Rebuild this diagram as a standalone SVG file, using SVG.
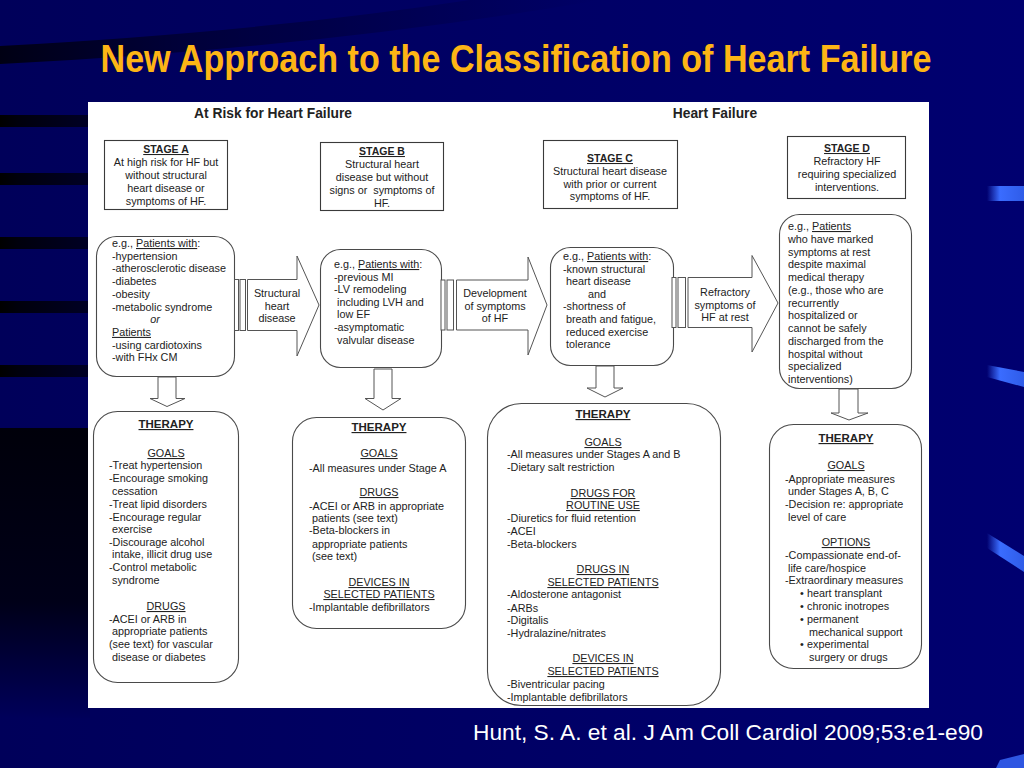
<svg xmlns="http://www.w3.org/2000/svg" width="1024" height="768" viewBox="0 0 1024 768">
<defs>
<linearGradient id="bg" x1="0" y1="0" x2="1" y2="0">
<stop offset="0" stop-color="#00005a"/>
<stop offset="1" stop-color="#000070"/>
</linearGradient>
<linearGradient id="stripe" x1="0" y1="0" x2="1" y2="0">
<stop offset="0" stop-color="#000000"/>
<stop offset="0.2" stop-color="#00000c"/>
<stop offset="1" stop-color="#000025"/>
</linearGradient>
<linearGradient id="lowleft" x1="0" y1="0" x2="0" y2="1">
<stop offset="0" stop-color="#00000a"/>
<stop offset="0.6" stop-color="#000018"/>
<stop offset="1" stop-color="#00005a"/>
</linearGradient>
<linearGradient id="arc" x1="0" y1="0" x2="1" y2="0">
<stop offset="0" stop-color="#000010" stop-opacity="0.95"/>
<stop offset="0.3" stop-color="#000020" stop-opacity="0.6"/>
<stop offset="1" stop-color="#000030" stop-opacity="0"/>
</linearGradient>
<linearGradient id="blue" x1="0" y1="0" x2="1" y2="0">
<stop offset="0" stop-color="#3a6cff" stop-opacity="0"/>
<stop offset="0.35" stop-color="#3a6cff"/>
<stop offset="1" stop-color="#2f5ce8"/>
</linearGradient>
<style>
.t{font-family:"Liberation Sans",Arial,sans-serif;font-size:10.8px;fill:#222}
.c{text-anchor:middle}
.b{font-weight:bold}
.u{text-decoration:underline}
.sh{font-family:"Liberation Sans",Arial,sans-serif;font-size:10.5px;font-weight:bold;fill:#222;text-anchor:middle;text-decoration:underline}
.th{font-family:"Liberation Sans",Arial,sans-serif;font-size:11.5px;font-weight:bold;fill:#222;text-anchor:middle;text-decoration:underline}
.box{fill:#fff;stroke:#3a3a3a;stroke-width:1.1}
.rbox{fill:#fff;stroke:#4a4a4a;stroke-width:1.1}
.arr{fill:#fff;stroke:#555;stroke-width:1}
</style>
</defs>

<!-- background -->
<rect x="0" y="0" width="1024" height="768" fill="url(#bg)"/>
<path d="M0,46 Q260,32 470,0 L600,0 Q320,48 0,64 Z" fill="url(#arc)"/>
<rect x="0" y="115" width="90" height="12" fill="url(#stripe)"/>
<rect x="0" y="173" width="90" height="12" fill="url(#stripe)"/>
<rect x="0" y="237" width="90" height="12" fill="url(#stripe)"/>
<rect x="0" y="301" width="90" height="12" fill="url(#stripe)"/>
<rect x="0" y="365" width="90" height="12" fill="url(#stripe)"/>
<rect x="0" y="428" width="90" height="290" fill="url(#lowleft)"/>
<polygon points="987,186 1024,186 1024,201 987,201" fill="url(#blue)"/>
<polygon points="987,365 1024,372 1024,387 987,377" fill="url(#blue)"/>
<polygon points="987,533 1024,556 1024,572 987,548" fill="url(#blue)"/>
<polygon points="1000,760 1024,754 1024,768 996,768" fill="#3a6cff" opacity="0.8"/>

<!-- title -->
<text x="516" y="72" font-family="Liberation Sans,Arial,sans-serif" font-size="38" font-weight="bold" fill="#fdb515" text-anchor="middle" textLength="831" lengthAdjust="spacingAndGlyphs">New Approach to the Classification of Heart Failure</text>

<!-- panel -->
<rect x="88" y="102" width="841" height="606" fill="#ffffff"/>
<text x="273" y="118" font-family="Liberation Sans,Arial,sans-serif" font-size="13.8" font-weight="bold" fill="#222" text-anchor="middle">At Risk for Heart Failure</text>
<text x="715" y="118" font-family="Liberation Sans,Arial,sans-serif" font-size="13.8" font-weight="bold" fill="#222" text-anchor="middle">Heart Failure</text>

<!-- stage boxes -->
<g id="stageA">
<rect class="box" x="104.5" y="140.5" width="123" height="69"/>
<text class="sh" x="166" y="153">STAGE A</text>
<text class="t c" x="166" y="166">At high risk for HF but</text>
<text class="t c" x="166" y="179">without structural</text>
<text class="t c" x="166" y="192">heart disease or</text>
<text class="t c" x="166" y="205">symptoms of HF.</text>
</g>
<g id="stageB">
<rect class="box" x="320.5" y="142.5" width="123" height="68"/>
<text class="sh" x="382" y="155">STAGE B</text>
<text class="t c" x="382" y="168">Structural heart</text>
<text class="t c" x="382" y="181">disease but without</text>
<text class="t c" x="382" y="194" xml:space="preserve">signs or  symptoms of</text>
<text class="t c" x="382" y="207">HF.</text>
</g>
<g id="stageC">
<rect class="box" x="543.5" y="140.5" width="134" height="68"/>
<text class="sh" x="610" y="162">STAGE C</text>
<text class="t c" x="610" y="175">Structural heart disease</text>
<text class="t c" x="610" y="188">with prior or current</text>
<text class="t c" x="610" y="200">symptoms of HF.</text>
</g>
<g id="stageD">
<rect class="box" x="787.5" y="136.5" width="118" height="62"/>
<text class="sh" x="847" y="152">STAGE D</text>
<text class="t c" x="847" y="165">Refractory HF</text>
<text class="t c" x="847" y="178">requiring specialized</text>
<text class="t c" x="847" y="191">interventions.</text>
</g>

<!-- patient boxes -->
<g id="patientsA">
<rect class="rbox" x="96.5" y="236.5" width="138" height="140" rx="20"/>
<text class="t" x="112" y="247">e.g., <tspan class="u">Patients with</tspan>:</text>
<text class="t" x="112" y="259.7">-hypertension</text>
<text class="t" x="112" y="272.4">-atherosclerotic disease</text>
<text class="t" x="112" y="285.1">-diabetes</text>
<text class="t" x="112" y="297.8">-obesity</text>
<text class="t" x="112" y="310.5">-metabolic syndrome</text>
<text class="t c" x="155" y="323.2" font-style="italic">or</text>
<text class="t u" x="112" y="335.9">Patients</text>
<text class="t" x="112" y="348.6">-using cardiotoxins</text>
<text class="t" x="112" y="361.3">-with FHx CM</text>
</g>
<g id="patientsB">
<rect class="rbox" x="320.5" y="249.5" width="121" height="118" rx="20"/>
<text class="t" x="334" y="268">e.g., <tspan class="u">Patients with</tspan>:</text>
<text class="t" x="334" y="280.6">-previous MI</text>
<text class="t" x="334" y="293.2">-LV remodeling</text>
<text class="t" x="337" y="305.8">including LVH and</text>
<text class="t" x="337" y="318.4">low EF</text>
<text class="t" x="334" y="331">-asymptomatic</text>
<text class="t" x="337" y="343.6">valvular disease</text>
</g>
<g id="patientsC">
<rect class="rbox" x="550.5" y="247.5" width="123" height="118" rx="20"/>
<text class="t" x="563" y="260">e.g., <tspan class="u">Patients with</tspan>:</text>
<text class="t" x="563" y="272.6">-known structural</text>
<text class="t" x="566" y="285.2">heart disease</text>
<text class="t" x="588" y="297.8">and</text>
<text class="t" x="563" y="310.4">-shortness of</text>
<text class="t" x="566" y="323">breath and fatigue,</text>
<text class="t" x="566" y="335.6">reduced exercise</text>
<text class="t" x="566" y="348.2">tolerance</text>
</g>
<g id="patientsD">
<rect class="rbox" x="779.5" y="214.5" width="132" height="174" rx="20"/>
<text class="t" x="788" y="230">e.g., <tspan class="u">Patients</tspan></text>
<text class="t" x="788" y="242.75">who have marked</text>
<text class="t" x="788" y="255.5">symptoms at rest</text>
<text class="t" x="788" y="268.25">despite maximal</text>
<text class="t" x="788" y="281">medical therapy</text>
<text class="t" x="788" y="293.75">(e.g., those who are</text>
<text class="t" x="788" y="306.5">recurrently</text>
<text class="t" x="788" y="319.25">hospitalized or</text>
<text class="t" x="788" y="332">cannot be safely</text>
<text class="t" x="788" y="344.75">discharged from the</text>
<text class="t" x="788" y="357.5">hospital without</text>
<text class="t" x="788" y="370.25">specialized</text>
<text class="t" x="788" y="383">interventions)</text>
</g>

<!-- therapy boxes -->
<g id="therapyA">
<rect class="rbox" x="93.5" y="411.5" width="145" height="271" rx="24"/>
<text class="th" x="166" y="428">THERAPY</text>
<text class="t c u" x="166" y="457">GOALS</text>
<text class="t" x="109" y="469">-Treat hypertension</text>
<text class="t" x="109" y="482">-Encourage smoking</text>
<text class="t" x="112" y="495">cessation</text>
<text class="t" x="109" y="508">-Treat lipid disorders</text>
<text class="t" x="109" y="521">-Encourage regular</text>
<text class="t" x="112" y="533">exercise</text>
<text class="t" x="109" y="546">-Discourage alcohol</text>
<text class="t" x="112" y="558">intake, illicit drug use</text>
<text class="t" x="109" y="571">-Control metabolic</text>
<text class="t" x="112" y="584">syndrome</text>
<text class="t c u" x="166" y="610">DRUGS</text>
<text class="t" x="109" y="623">-ACEI or ARB in</text>
<text class="t" x="112" y="635">appropriate patients</text>
<text class="t" x="109" y="648">(see text) for vascular</text>
<text class="t" x="112" y="661">disease or diabetes</text>
</g>
<g id="therapyB">
<rect class="rbox" x="292.5" y="417.5" width="173" height="211" rx="24"/>
<text class="th" x="379" y="431">THERAPY</text>
<text class="t c u" x="379" y="457">GOALS</text>
<text class="t" x="309" y="472">-All measures under Stage A</text>
<text class="t c u" x="379" y="496">DRUGS</text>
<text class="t" x="309" y="510">-ACEI or ARB in appropriate</text>
<text class="t" x="312" y="522">patients (see text)</text>
<text class="t" x="309" y="534">-Beta-blockers in</text>
<text class="t" x="312" y="548">appropriate patients</text>
<text class="t" x="312" y="560">(see text)</text>
<text class="t c u" x="379" y="586">DEVICES IN</text>
<text class="t c u" x="379" y="598">SELECTED PATIENTS</text>
<text class="t" x="309" y="611">-Implantable defibrillators</text>
</g>
<g id="therapyC">
<rect class="rbox" x="487.5" y="403.5" width="233" height="302" rx="34"/>
<text class="th" x="603" y="418">THERAPY</text>
<text class="t c u" x="603" y="446">GOALS</text>
<text class="t" x="507" y="458">-All measures under Stages A and B</text>
<text class="t" x="507" y="471">-Dietary salt restriction</text>
<text class="t c u" x="603" y="497">DRUGS FOR</text>
<text class="t c u" x="603" y="509">ROUTINE USE</text>
<text class="t" x="507" y="522">-Diuretics for fluid retention</text>
<text class="t" x="507" y="535">-ACEI</text>
<text class="t" x="507" y="548">-Beta-blockers</text>
<text class="t c u" x="603" y="573">DRUGS IN</text>
<text class="t c u" x="603" y="586">SELECTED PATIENTS</text>
<text class="t" x="507" y="598">-Aldosterone antagonist</text>
<text class="t" x="507" y="612">-ARBs</text>
<text class="t" x="507" y="624">-Digitalis</text>
<text class="t" x="507" y="637">-Hydralazine/nitrates</text>
<text class="t c u" x="603" y="662">DEVICES IN</text>
<text class="t c u" x="603" y="675">SELECTED PATIENTS</text>
<text class="t" x="507" y="688">-Biventricular pacing</text>
<text class="t" x="507" y="701">-Implantable defibrillators</text>
</g>
<g id="therapyD">
<rect class="rbox" x="769.5" y="424.5" width="152" height="244" rx="24"/>
<text class="th" x="846" y="442">THERAPY</text>
<text class="t c u" x="846" y="469">GOALS</text>
<text class="t" x="785" y="483">-Appropriate measures</text>
<text class="t" x="788" y="495">under Stages A, B, C</text>
<text class="t" x="785" y="508">-Decision re: appropriate</text>
<text class="t" x="788" y="521">level of care</text>
<text class="t c u" x="846" y="546">OPTIONS</text>
<text class="t" x="785" y="559">-Compassionate end-of-</text>
<text class="t" x="788" y="572">life care/hospice</text>
<text class="t" x="785" y="584">-Extraordinary measures</text>
<text class="t" x="800" y="597">•</text><text class="t" x="807" y="597">heart transplant</text>
<text class="t" x="800" y="610">•</text><text class="t" x="807" y="610">chronic inotropes</text>
<text class="t" x="800" y="623">•</text><text class="t" x="807" y="623">permanent</text>
<text class="t" x="809" y="636">mechanical support</text>
<text class="t" x="800" y="648">•</text><text class="t" x="807" y="648">experimental</text>
<text class="t" x="809" y="661">surgery or drugs</text>
</g>

<!-- connectors -->
<g id="connectors">
<rect class="arr" x="234.5" y="279.5" width="4" height="51"/>
<rect class="arr" x="240" y="279.5" width="5.5" height="51"/>
<polygon class="arr" points="247.5,279.5 297,279.5 297,256 319,305 297,356 297,330.5 247.5,330.5"/>
<text class="t c" x="277" y="297">Structural</text>
<text class="t c" x="277" y="309.5">heart</text>
<text class="t c" x="277" y="322">disease</text>

<rect class="arr" x="441" y="280" width="4" height="50"/>
<rect class="arr" x="447" y="280" width="6.5" height="50"/>
<polygon class="arr" points="456.5,280 528,280 528,257 547,305 528,355 528,330 456.5,330"/>
<text class="t c" x="495" y="297">Development</text>
<text class="t c" x="495" y="309.5">of symptoms</text>
<text class="t c" x="495" y="322">of HF</text>

<rect class="arr" x="672" y="277.5" width="4" height="50"/>
<rect class="arr" x="678" y="277.5" width="7.5" height="50"/>
<polygon class="arr" points="688,277.5 752,277.5 752,255.5 778,303 752,352 752,327.5 688,327.5"/>
<text class="t c" x="725" y="296">Refractory</text>
<text class="t c" x="725" y="308.5">symptoms of</text>
<text class="t c" x="725" y="321">HF at rest</text>

<polygon class="arr" points="158,377 176,377 176,398.5 185,398.5 167,406.5 150,398.5 158,398.5"/>
<polygon class="arr" points="374,369 392,369 392,398.5 401,398.5 383,410 365,398.5 374,398.5"/>
<polygon class="arr" points="596,366 614,366 614,388 623,388 605,397 587,388 596,388"/>
<polygon class="arr" points="839,389 858,389 858,413 868,413 849,420 831,413 839,413"/>
</g>

<!-- citation -->
<text x="473" y="740" font-family="Liberation Sans,Arial,sans-serif" font-size="22.5" fill="#ffffff" textLength="510" lengthAdjust="spacingAndGlyphs">Hunt, S. A. et al. J Am Coll Cardiol 2009;53:e1-e90</text>
</svg>
